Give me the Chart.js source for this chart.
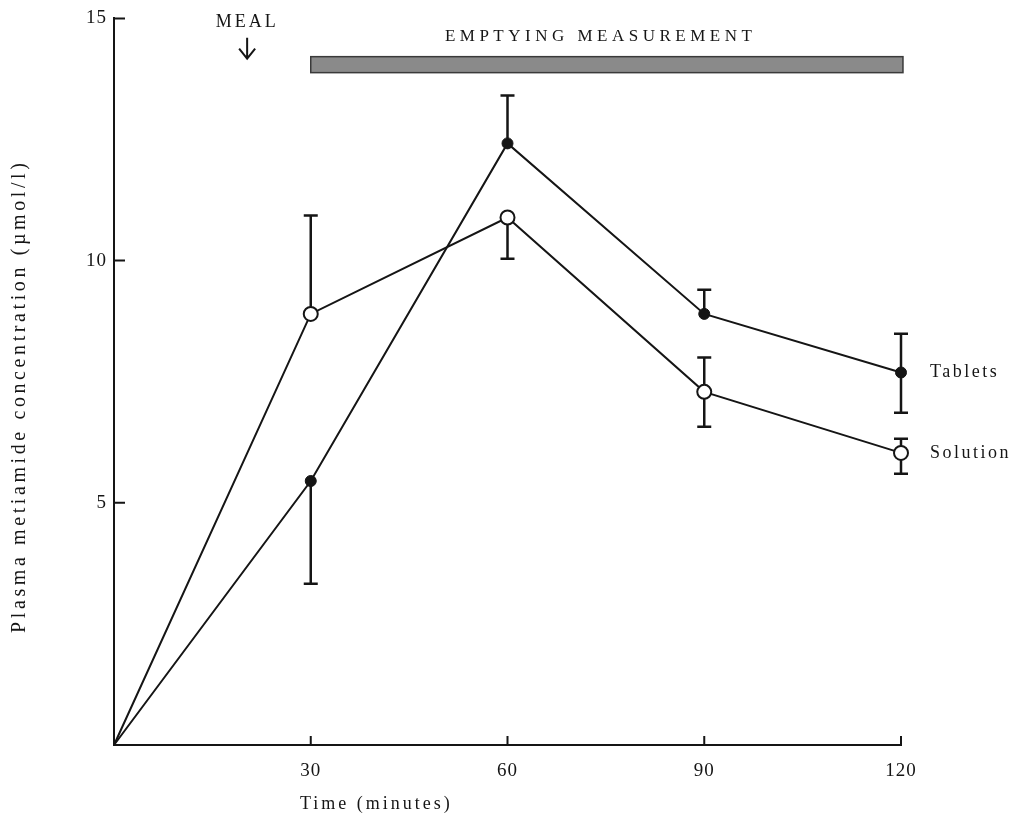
<!DOCTYPE html>
<html>
<head>
<meta charset="utf-8">
<script src="https://cdn.jsdelivr.net/npm/chart.js@4.4.0/dist/chart.umd.min.js"></script>
<style>
  body { margin: 0; background: #fff; }
</style>
</head>
<body>
<canvas id="myChart" width="1016" height="827"></canvas>
<script>
// time points (minutes) and plasma concentrations (umol/l)
const times = [0, 30, 60, 90, 120];
const tablets = [0, 5.45, 12.42, 8.9, 7.69];
const tabletsHigh = [null, null, 13.41, 9.4, 8.49];
const tabletsLow = [null, 3.33, null, null, 6.86];
const solution = [0, 8.9, 10.89, 7.29, 6.03];
const solutionHigh = [null, 10.93, null, 8.0, 6.32];
const solutionLow = [null, null, 10.04, 6.57, 5.6];

const xTicks = [30, 60, 90, 120];
const yTicks = [5, 10, 15];

const mealTime = 20.3;
const emptyingStart = 30;
const emptyingEnd = 120.3;

const xTitle = "Time (minutes)";
const yTitle = "Plasma metiamide concentration (\u00b5mol/l)";

const serif = "'Liberation Serif', 'DejaVu Serif', serif";
const ink = "#151515";

function points(ys) {
  return times.map((t, i) => ({ x: t, y: ys[i] }));
}

// error bars, drawn under the markers
const errorBars = {
  id: "errorBars",
  beforeDatasetsDraw(chart) {
    const ctx = chart.ctx;
    const xs = chart.scales.x, ys = chart.scales.y;
    ctx.save();
    ctx.strokeStyle = ink;
    ctx.lineWidth = 2.5;
    chart.data.datasets.forEach((ds) => {
      times.forEach((t, i) => {
        const px = xs.getPixelForValue(t);
        const py = ys.getPixelForValue(ds.data[i].y);
        [ds.errHigh[i], ds.errLow[i]].forEach((e) => {
          if (e === null) return;
          const pe = ys.getPixelForValue(e);
          ctx.beginPath();
          ctx.moveTo(px, py);
          ctx.lineTo(px, pe);
          ctx.moveTo(px - 7, pe);
          ctx.lineTo(px + 7, pe);
          ctx.stroke();
        });
      });
    });
    ctx.restore();
  }
};

// inward tick marks, axis titles, annotations and series labels
const decorations = {
  id: "decorations",
  afterDraw(chart) {
    const ctx = chart.ctx;
    const xs = chart.scales.x, ys = chart.scales.y;
    const x0 = xs.getPixelForValue(0), y0 = ys.getPixelForValue(0);
    ctx.save();
    ctx.strokeStyle = ink;
    ctx.fillStyle = ink;
    ctx.lineWidth = 2;
    ctx.beginPath();
    xTicks.forEach((v) => {
      const p = xs.getPixelForValue(v);
      ctx.moveTo(p, y0);
      ctx.lineTo(p, y0 - 9);
    });
    yTicks.forEach((v) => {
      const p = ys.getPixelForValue(v);
      ctx.moveTo(x0, p);
      ctx.lineTo(x0 + 11, p);
    });
    ctx.stroke();

    ctx.textAlign = "center";
    ctx.textBaseline = "middle";

    // axis titles
    ctx.font = "18px " + serif;
    ctx.letterSpacing = "3px";
    ctx.fillText(xTitle, xs.getPixelForValue(40), 804);
    ctx.save();
    ctx.translate(20, ys.getPixelForValue(7.2));
    ctx.rotate(-Math.PI / 2);
    ctx.font = "20px " + serif;
    ctx.letterSpacing = "3.6px";
    ctx.fillText(yTitle, 0, 0);
    ctx.restore();

    // MEAL arrow
    const mx = xs.getPixelForValue(mealTime);
    ctx.font = "18px " + serif;
    ctx.letterSpacing = "3px";
    ctx.fillText("MEAL", mx, ys.getPixelForValue(14.92));
    const ya = ys.getPixelForValue(14.6), yb = ys.getPixelForValue(14.17);
    ctx.lineWidth = 2;
    ctx.beginPath();
    ctx.moveTo(mx, ya);
    ctx.lineTo(mx, yb);
    ctx.moveTo(mx - 8, yb - 10);
    ctx.lineTo(mx, yb);
    ctx.lineTo(mx + 8, yb - 10);
    ctx.stroke();

    // emptying measurement bar
    const bx1 = xs.getPixelForValue(emptyingStart), bx2 = xs.getPixelForValue(emptyingEnd);
    const by1 = ys.getPixelForValue(14.21), by2 = ys.getPixelForValue(13.88);
    ctx.fillStyle = "#8a8a8a";
    ctx.fillRect(bx1, by1, bx2 - bx1, by2 - by1);
    ctx.strokeStyle = "#3a3a3a";
    ctx.lineWidth = 1.5;
    ctx.strokeRect(bx1, by1, bx2 - bx1, by2 - by1);
    ctx.fillStyle = ink;
    ctx.font = "17px " + serif;
    ctx.letterSpacing = "4.5px";
    ctx.fillText("EMPTYING MEASUREMENT", xs.getPixelForValue(74.2), ys.getPixelForValue(14.63));

    // series labels at the end of each line
    ctx.textAlign = "left";
    ctx.font = "18px " + serif;
    ctx.letterSpacing = "2.5px";
    chart.data.datasets.forEach((ds) => {
      const last = ds.data[ds.data.length - 1];
      ctx.fillText(ds.label, xs.getPixelForValue(last.x) + 29, ys.getPixelForValue(last.y));
    });
    ctx.restore();
  }
};

const spacing = {
  id: "spacing",
  beforeDraw(chart) {
    chart.ctx.letterSpacing = "1px";
  }
};

new Chart(document.getElementById("myChart"), {
  type: "line",
  data: {
    datasets: [
      {
        label: "Tablets",
        data: points(tablets),
        errHigh: tabletsHigh,
        errLow: tabletsLow,
        borderColor: ink,
        borderWidth: 2,
        pointRadius: [0, 5.5, 5.5, 5.5, 5.5],
        pointBackgroundColor: ink,
        pointBorderColor: ink,
        pointBorderWidth: 1,
        tension: 0,
        clip: false
      },
      {
        label: "Solution",
        data: points(solution),
        errHigh: solutionHigh,
        errLow: solutionLow,
        borderColor: ink,
        borderWidth: 2,
        pointRadius: [0, 7, 7, 7, 7],
        pointBackgroundColor: "#fff",
        pointBorderColor: ink,
        pointBorderWidth: 2,
        tension: 0,
        clip: false
      }
    ]
  },
  options: {
    responsive: false,
    animation: false,
    devicePixelRatio: 1,
    layout: { padding: { left: 0, right: 115, top: 18, bottom: 0 } },
    plugins: {
      legend: { display: false },
      tooltip: { enabled: false }
    },
    scales: {
      x: {
        type: "linear",
        min: 0,
        max: 120,
        afterBuildTicks: (s) => { s.ticks = xTicks.map((v) => ({ value: v })); },
        afterFit: (s) => { s.height = 82; },
        grid: { display: false, drawTicks: false },
        border: { display: true, color: ink, width: 2 },
        ticks: { color: ink, padding: 15, maxRotation: 0, font: { family: serif, size: 19 } },
        title: { display: false }
      },
      y: {
        min: 0,
        max: 15,
        afterBuildTicks: (s) => { s.ticks = yTicks.map((v) => ({ value: v })); },
        afterFit: (s) => { s.width = 114; },
        grid: { display: false, drawTicks: false },
        border: { display: true, color: ink, width: 2 },
        ticks: { color: ink, padding: 7, font: { family: serif, size: 19 } },
        title: { display: false }
      }
    }
  },
  plugins: [spacing, errorBars, decorations]
});
</script>
</body>
</html>
